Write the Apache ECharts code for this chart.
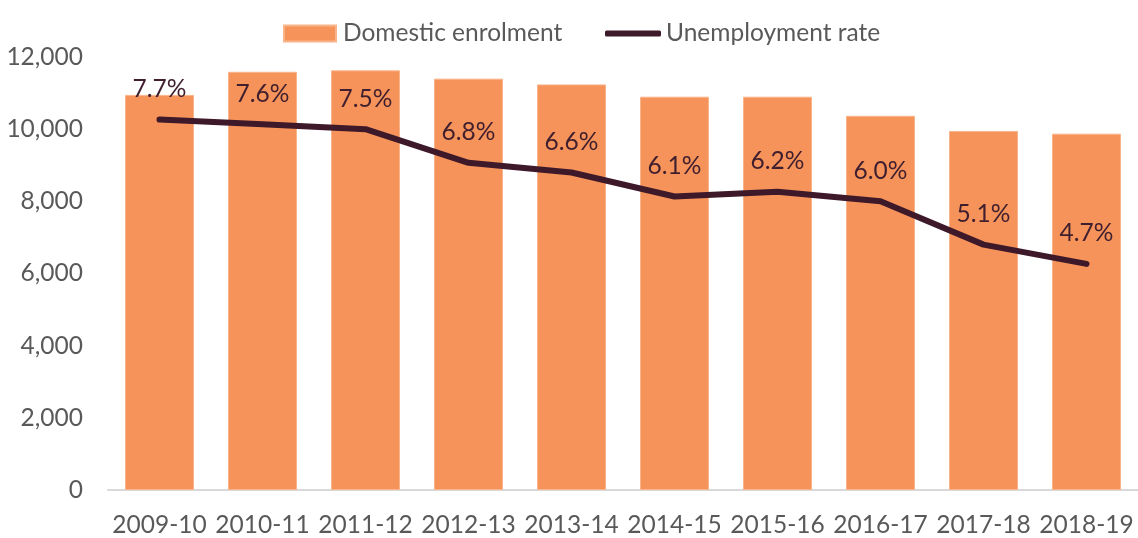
<!DOCTYPE html>
<html>
<head>
<meta charset="utf-8">
<script src="https://cdn.jsdelivr.net/npm/echarts@6/dist/echarts.min.js"></script>
<style>
html,body{margin:0;padding:0;background:#fff;}
#chart{width:1138px;height:538px;}
</style>
</head>
<body>
<div id="chart"></div>
<script>
const categories = ['2009-10','2010-11','2011-12','2012-13','2013-14','2014-15','2015-16','2016-17','2017-18','2018-19'];
const enrolment = [10950, 11590, 11630, 11400, 11240, 10900, 10900, 10370, 9950, 9875];
const unemploymentRate = [7.7, 7.6, 7.5, 6.8, 6.6, 6.1, 6.2, 6.0, 5.1, 4.7];
const yTicks = [0, 2000, 4000, 6000, 8000, 10000, 12000];

const FONT = 'Lato';
const FS = 24.5;
const chart = echarts.init(document.getElementById('chart'), null, {renderer: 'canvas'});
chart.setOption({
  animation: false,
  backgroundColor: '#ffffff',
  textStyle: {fontFamily: FONT},
  legend: [
    {
      data: ['Domestic enrolment'],
      left: 283, top: 21, padding: 0,
      itemWidth: 52, itemHeight: 16,
      icon: 'rect',
      textStyle: {fontFamily: FONT, fontSize: FS, color: '#595959', padding: [0,0,0,2]}
    },
    {
      data: ['Unemployment rate'],
      left: 605, top: 21, padding: 0,
      itemWidth: 56, itemHeight: 6,
      icon: 'roundRect',
      itemStyle: {color: '#3E1929'},
      textStyle: {fontFamily: FONT, fontSize: FS, color: '#595959', padding: [0,0,0,0]}
    }
  ],
  grid: {left: 108, top: 57, width: 1036, height: 436, containLabel: false},
  xAxis: {
    type: 'category',
    data: categories,
    axisLine: {show: true, lineStyle: {color: '#D9D9D9', width: 2}},
    axisTick: {show: false},
    axisLabel: {fontFamily: FONT, fontSize: FS, color: '#595959', margin: 23, interval: 0}
  },
  yAxis: [
    {
      type: 'value', min: yTicks[0], max: yTicks[yTicks.length-1], interval: 2000,
      axisLine: {show: false}, axisTick: {show: false},
      splitLine: {show: false},
      axisLabel: {fontFamily: FONT, fontSize: FS, color: '#595959', margin: 25,
        formatter: v => v.toLocaleString('en-US')}
    },
    {
      type: 'value', min: 0, max: 9, show: false,
      splitLine: {show: false}
    }
  ],
  series: [
    {
      name: 'Domestic enrolment',
      type: 'bar',
      data: enrolment,
      barWidth: 69,
      itemStyle: {color: '#F6935A', borderColor: '#F9B48A', borderWidth: 1}
    },
    {
      name: 'Unemployment rate',
      type: 'line',
      yAxisIndex: 1,
      data: unemploymentRate,
      symbol: 'circle', symbolSize: 2, showSymbol: true,
      itemStyle: {color: '#3E1929'},
      lineStyle: {color: '#3E1929', width: 6, cap: 'round', join: 'round'},
      label: {
        show: true, position: 'top', distance: 17,
        fontFamily: FONT, fontSize: FS, color: '#3F1E2E',
        formatter: p => p.value.toFixed(1) + '%'
      },
      z: 3
    }
  ]
});
</script>
</body>
</html>
